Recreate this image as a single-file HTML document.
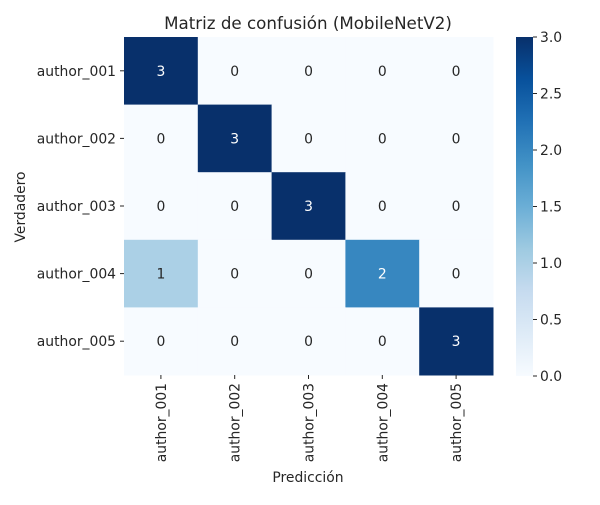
<!DOCTYPE html>
<html><head><meta charset="utf-8"><style>
body{margin:0;background:#fff}
svg text{font-family:"DejaVu Sans","Liberation Sans",sans-serif;font-size:13.9px;fill:#262626}
</style></head><body>
<svg width="600" height="500" xmlns="http://www.w3.org/2000/svg">
<defs><linearGradient id="g" x1="0" y1="1" x2="0" y2="0">
<stop offset="0" stop-color="#f7fbff"/><stop offset="0.125" stop-color="#deebf7"/><stop offset="0.25" stop-color="#c6dbef"/><stop offset="0.375" stop-color="#9ecae1"/><stop offset="0.5" stop-color="#6baed6"/><stop offset="0.625" stop-color="#4292c6"/><stop offset="0.75" stop-color="#2171b5"/><stop offset="0.875" stop-color="#08519c"/><stop offset="1" stop-color="#08306b"/></linearGradient></defs>
<text x="308" y="29" text-anchor="middle" style="font-size:16.7px">Matriz de confusión (MobileNetV2)</text>
<g id="hm"></g>
<rect x="516" y="37" width="17" height="339" fill="url(#g)"/>
<g id="cb"></g>
<text x="308" y="482" text-anchor="middle">Predicción</text>
<text transform="translate(25,207) rotate(-90)" text-anchor="middle">Verdadero</text>
</svg>
<script>
const labels=["author_001","author_002","author_003","author_004","author_005"];
const matrix=[[3,0,0,0,0],[0,3,0,0,0],[0,0,3,0,0],[1,0,0,2,0],[0,0,0,0,3]];
const cbTicks=[0,0.5,1,1.5,2,2.5,3];
const NS="http://www.w3.org/2000/svg";
const L=124,T=37,W=369,H=338,n=labels.length,cw=W/n,ch=H/n,vmax=3;
const cols=["#f7fbff","#deebf7","#c6dbef","#9ecae1","#6baed6","#4292c6","#2171b5","#08519c","#08306b"];
function hex(h){return [1,3,5].map(i=>parseInt(h.substr(i,2),16));}
function color(v){const t=v/vmax*8,i=Math.min(7,Math.floor(t)),f=t-i;const a=hex(cols[i]),b=hex(cols[i+1]);return "rgb("+a.map((x,k)=>Math.round(x+(b[k]-x)*f)).join(",")+")";}
function xs(j){return L+j*cw;} function ys(i){return T+i*ch;}
function el(tag,at,p){const e=document.createElementNS(NS,tag);for(const k in at)e.setAttribute(k,at[k]);p.appendChild(e);return e;}
const hm=document.getElementById("hm");
matrix.forEach((row,i)=>row.forEach((v,j)=>{
 const r=el("rect",{x:xs(j),y:ys(i),width:cw+0.5,height:ch+0.5,fill:color(v)},hm);
 
 
 const t=el("text",{x:xs(j)+cw/2,y:ys(i)+ch/2+5,"text-anchor":"middle"},hm);
 t.textContent=v;t.style.fill=v/vmax>0.5?"#fff":"#262626";
 
 
}));
labels.forEach((lb,i)=>{
 const y=ys(i)+ch/2;
 el("line",{x1:L-4,x2:L,y1:y,y2:y,stroke:"#262626"},hm);
 const t=el("text",{x:L-8,y:y+5,"text-anchor":"end"},hm);t.textContent=lb;
 
 
 const x=xs(i)+cw/2;
 el("line",{x1:x,x2:x,y1:T+H,y2:T+H+4,stroke:"#262626"},hm);
 const u=el("text",{transform:"translate("+(x+5)+","+(T+H+8)+") rotate(-90)","text-anchor":"end"},hm);u.textContent=lb;
 
 
});
const cb=document.getElementById("cb");
cbTicks.forEach(v=>{
 const y=376-v/vmax*339;
 el("line",{x1:533,x2:537,y1:y,y2:y,stroke:"#262626"},cb);
 const t=el("text",{x:540,y:y+5},cb);t.textContent=v.toFixed(1);
 
 
});
</script>
</body></html>
